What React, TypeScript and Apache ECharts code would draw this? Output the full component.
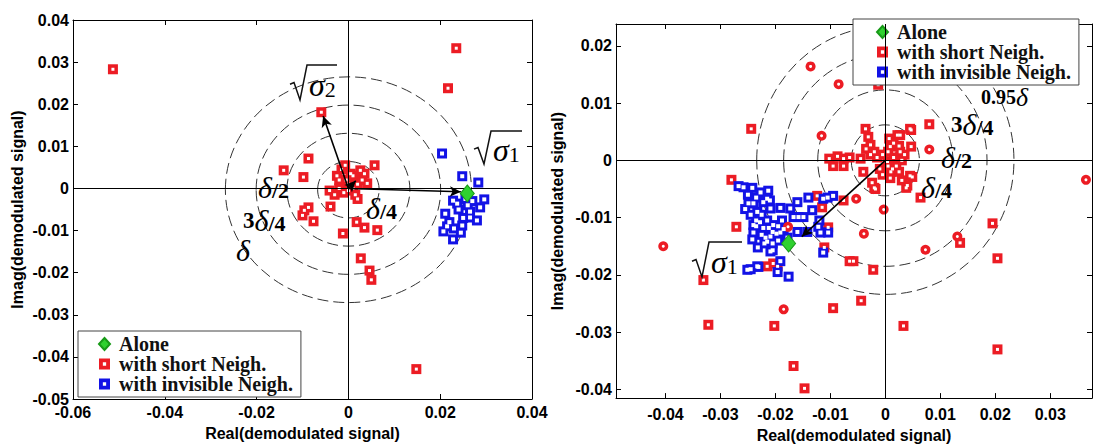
import React, { useEffect, useRef } from 'react';
import * as echarts from 'echarts';

// ---------- data ----------
const legendNames = ['Alone', 'with short Neigh.', 'with invisible Neigh.'];
const axisNameX = 'Real(demodulated signal)';
const axisNameY = 'Imag(demodulated signal)';

const leftAlone = [[0.0259, -0.0012]];
const leftShort = [
  [-0.0513, 0.0283], [0.0235, 0.0333], [0.0217, 0.0238], [-0.0059, 0.0181],
  [-0.0087, 0.0071], [-0.0141, 0.0043], [-0.0098, 0.0027], [-0.0007, 0.0055],
  [0.0026, 0.0043], [0.0057, 0.0055], [0.0041, 0.0012], [-0.0041, -0.0005],
  [-0.002, 0.002], [0.0, 0.001], [0.001, 0.0], [-0.001, -0.001], [0.002, 0.001],
  [0.001, 0.003], [-0.002, 0.0], [0.0015, -0.0015], [0.003, 0.002], [0.0, -0.0005],
  [-0.0025, 0.003], [0.0005, 0.0035], [-0.0015, 0.0045], [0.0035, 0.0035],
  [-0.003, -0.0015], [0.002, -0.0025], [-0.0005, 0.002],
  [-0.0039, -0.0043], [-0.0096, -0.0052], [-0.0087, -0.0045], [-0.01, -0.0064],
  [-0.0076, -0.0078], [0.0018, -0.008], [0.0035, -0.0093], [0.0063, -0.0099],
  [-0.0012, -0.0107], [0.0027, -0.0166], [0.0046, -0.0195], [0.005, -0.0217],
  [0.0148, -0.0429],
];
const leftInvisible = [
  [0.0204, 0.0083], [0.0248, 0.0029], [0.0283, 0.0014], [0.0228, -0.0029],
  [0.0296, -0.0026], [0.0287, -0.0045], [0.0211, -0.006], [0.028, -0.0076],
  [0.0248, -0.0088], [0.0207, -0.0102], [0.0228, -0.0121], [0.0265, -0.0069],
  [0.0237, -0.0036], [0.024, -0.005], [0.026, -0.004], [0.022, -0.008],
  [0.025, -0.007], [0.027, -0.003], [0.023, -0.0095], [0.0245, -0.0105],
  [0.0215, -0.009], [0.0265, -0.0055], [0.0255, -0.0025],
];
// [centre x, centre y, radius]  (delta/4, delta/2, 3delta/4, delta)
const leftRings = [[0, -0.0003, 0.0067], [0, -0.0003, 0.0134], [0, -0.0003, 0.0201], [0, -0.0003, 0.0268]];
const leftArrows = [[-0.0055, 0.0172], [0.0245, -0.0008], [0.0016, 0.0018]];

const rightAlone = [[-0.0176, -0.0145]];
const rightShortSquares = [
  [-0.0244, 0.0055], [-0.028, -0.0034], [-0.0124, -0.0062], [-0.0013, 0.0132],
  [0.008, 0.0063], [0.0047, 0.0053], [0.0064, -0.0065], [0.0049, -0.0029],
  [0.0038, -0.0048], [-0.002, -0.0048], [-0.0076, -0.007], [-0.0036, 0.0055],
  [-0.0031, 0.0041], [0.0007, 0.0038], [0.0027, 0.0044], [0.0045, 0.0055],
  [0.0022, 0.0044], [0.0047, 0.0024], [0.0027, 0.0015], [0.0009, 0.0024],
  [-0.0027, 0.0027], [-0.0027, 0.001], [-0.0045, 0.0003], [-0.0087, 0.0007],
  [-0.0076, 0.0003], [-0.0095, -0.001], [-0.0076, -0.001], [-0.0102, 0.0003],
  [-0.0065, 0.0005], [0.0004, -0.0002], [0.0013, -0.0015], [0.0009, -0.0031],
  [0.0045, -0.0027], [0.004, -0.0044], [-0.0024, -0.0039], [-0.0018, -0.005],
  [0.0015, 0.0005], [-0.0005, 0.001], [0.002, -0.001], [0.0005, 0.0015],
  [0.003, 0.0], [-0.001, -0.0015], [0.0025, 0.0025], [-0.0015, 0.0005],
  [0.001, -0.002], [0.0035, 0.001], [0.0005, -0.001], [-0.0005, -0.0025],
  [0.0025, -0.002], [0.0015, 0.003], [-0.002, 0.0015], [0.003, -0.0035],
  [-0.004, -0.002], [-0.0035, 0.002],
  [0.0136, -0.0144], [0.0195, -0.011],
  [0.0204, -0.0171], [-0.0104, -0.0117], [-0.0111, -0.0152], [-0.0065, -0.0176],
  [-0.0058, -0.0176], [-0.0022, -0.0191], [-0.0044, -0.0245], [-0.0095, -0.0258],
  [0.0033, -0.0289], [0.0204, -0.033], [-0.0271, -0.0116], [-0.0331, -0.0209],
  [-0.0322, -0.0287], [-0.0202, -0.0289], [-0.0167, -0.0359], [-0.0147, -0.0398],
  [-0.0215, -0.0185], [-0.0204, -0.018], [-0.0196, -0.0185], [-0.0115, -0.0082],
];
const rightShortCircles = [
  [-0.0136, 0.0164], [-0.0116, 0.0043], [-0.0085, 0.0133], [0.008, 0.0019],
  [0.0365, -0.0034], [-0.0053, -0.0067], [-0.0003, -0.0086], [-0.0039, -0.0128],
  [0.0131, -0.0133], [0.0073, -0.0156], [-0.0404, -0.015], [-0.0185, -0.026],
  [-0.0177, -0.0116],
];
const rightInvisible = [
  [-0.0267, -0.0045], [-0.0258, -0.0047], [-0.0242, -0.0048], [-0.0227, -0.0056],
  [-0.0213, -0.0053], [-0.0249, -0.0075], [-0.0222, -0.0073], [-0.0215, -0.0067],
  [-0.0209, -0.0084], [-0.0233, -0.009], [-0.0191, -0.0083], [-0.0173, -0.0084],
  [-0.016, -0.0073], [-0.014, -0.0065], [-0.0113, -0.0067], [-0.0105, -0.0065],
  [-0.0095, -0.0062], [-0.0133, -0.0087], [-0.0167, -0.0099], [-0.0149, -0.0099],
  [-0.0158, -0.0099], [-0.024, -0.0113], [-0.0222, -0.0118], [-0.0204, -0.0113],
  [-0.024, -0.0126], [-0.0209, -0.0133], [-0.0191, -0.0126], [-0.0215, -0.0142],
  [-0.0209, -0.0159], [-0.016, -0.0125], [-0.0142, -0.0125], [-0.0122, -0.0116],
  [-0.0118, -0.0126], [-0.0104, -0.0126], [-0.0113, -0.0161], [-0.012, -0.0105],
  [-0.0251, -0.0191], [-0.0233, -0.0185], [-0.0245, -0.019], [-0.0231, -0.0186],
  [-0.0196, -0.0195], [-0.0176, -0.0203], [-0.0191, -0.0176], [-0.0205, -0.0157],
  [-0.0235, -0.0105], [-0.0225, -0.0095], [-0.0215, -0.0105], [-0.0225, -0.013],
  [-0.022, -0.0145], [-0.0235, -0.0115], [-0.0245, -0.0095], [-0.0205, -0.0125],
  [-0.0195, -0.0115], [-0.0185, -0.012], [-0.0195, -0.014], [-0.021, -0.007],
  [-0.0235, -0.0065], [-0.025, -0.006], [-0.0255, -0.0085], [-0.024, -0.0075],
  [-0.0228, -0.0108], [-0.0212, -0.0118], [-0.0218, -0.0135], [-0.0205, -0.0145],
  [-0.0198, -0.0128], [-0.0242, -0.0138], [-0.0232, -0.0152], [-0.0188, -0.0105],
  [-0.0178, -0.0135],
];
// (delta/4, delta/2, 3delta/4, 0.95delta)
const rightRings = [[0, 0, 0.0062], [0, 0, 0.0123], [0, 0, 0.0185], [0, 0, 0.0234]];
const rightArrows = [[-0.0152, -0.0133]];

// ---------- styles ----------
const SANS = "'Liberation Sans', Arial, sans-serif";
const SERIF = "'Liberation Serif', 'Times New Roman', serif";
const RED = '#ec1c24';
const BLUE = '#1212e6';
const GREEN = '#2fd12f';

const tickLabel = { fontFamily: SANS, fontWeight: 'bold' as const, fontSize: 16, color: '#000' };
const axisLine = { show: true, onZero: false, lineStyle: { color: '#000', width: 1 } };
const axisTick = { show: true, inside: true, length: 5, lineStyle: { color: '#000', width: 1 } };

function xAxes(grid: number, min: number, max: number, step: number, fixedInterval: boolean, gap: number, edgeLabels: boolean) {
  const scale: any = fixedInterval ? { interval: step } : { minInterval: step, maxInterval: step };
  const base = { gridIndex: grid, type: 'value', min, max, ...scale, splitLine: { show: false }, axisLine, axisTick };
  return [
    {
      ...base, position: 'bottom',
      axisLabel: { ...tickLabel, margin: gap, showMinLabel: edgeLabels, showMaxLabel: edgeLabels },
      name: axisNameX, nameLocation: 'middle', nameGap: grid === 0 ? 26 : 24,
      nameTextStyle: { fontFamily: SANS, fontWeight: 'bold', fontSize: 16, color: '#000' },
    },
    { ...base, position: 'top', axisLabel: { show: false } },
  ];
}
function yAxes(grid: number, min: number, max: number, step: number, fixedInterval: boolean, nameGap: number, edgeLabels: boolean) {
  const scale: any = fixedInterval ? { interval: step } : { minInterval: step, maxInterval: step };
  const base = { gridIndex: grid, type: 'value', min, max, ...scale, splitLine: { show: false }, axisLine, axisTick };
  return [
    {
      ...base, position: 'left',
      axisLabel: { ...tickLabel, margin: 4, showMinLabel: edgeLabels, showMaxLabel: edgeLabels },
      name: axisNameY, nameLocation: 'middle', nameGap,
      nameTextStyle: { fontFamily: SANS, fontWeight: 'bold', fontSize: 16, color: '#000' },
    },
    { ...base, position: 'right', axisLabel: { show: false } },
  ];
}

// marker = filled coloured symbol + small white centre drawn on top
function markerSeries(name: string | undefined, axis: number, data: number[][], symbol: string, color: string, size: number, hole: number, z: number) {
  const base = { type: 'scatter', xAxisIndex: axis, yAxisIndex: axis, data, symbol };
  return [
    { ...base, name, z, symbolSize: size, itemStyle: { color, opacity: 1 } },
    { ...base, z: z + 0.5, silent: true, symbolSize: hole, itemStyle: { color: '#fff', opacity: 1 } },
  ];
}
const greenDiamond = { symbol: 'diamond', symbolSize: [14, 17], itemStyle: { color: GREEN, borderColor: '#189a18', borderWidth: 1, opacity: 1 } };

function ringSeries(axis: number, data: number[][]) {
  return {
    type: 'custom', xAxisIndex: axis, yAxisIndex: axis, silent: true, z: 1,
    data,
    renderItem: (_p: any, api: any) => {
      const c = api.coord([api.value(0), api.value(1)]);
      const s = api.size([api.value(2), api.value(2)]);
      return {
        type: 'ellipse',
        shape: { cx: c[0], cy: c[1], rx: s[0], ry: s[1] },
        style: { fill: 'none', stroke: '#333', lineWidth: 1, lineDash: [11, 5] },
      };
    },
    markLine: {
      silent: true, symbol: ['none', 'none'], label: { show: false },
      lineStyle: { color: '#000', width: 1, type: 'solid' },
      data: [{ xAxis: 0 }, { yAxis: 0 }],
    },
  };
}

function arrowMarks(arrows: number[][]) {
  return {
    silent: true, symbol: ['none', 'arrow'], symbolSize: [8, 11], label: { show: false },
    lineStyle: { color: '#000', width: 1.6, type: 'solid' },
    data: arrows.map((a) => [{ coord: [0, 0] }, { coord: a }]),
  };
}

// ---------- annotation helpers ----------
const deltaRich = {
  n: { fontFamily: SERIF, fontWeight: 'bold', fontSize: 23, lineHeight: 22, color: '#111' },
  d: { fontFamily: SERIF, fontStyle: 'italic', fontSize: 30, lineHeight: 22, color: '#111' },
  s: { fontFamily: SERIF, fontWeight: 'bold', fontSize: 22, lineHeight: 15, color: '#111', padding: [7, 0, 0, 0] },
};
function deltaText(x: number, y: number, pre: string, den: string) {
  return {
    type: 'text', x, y, z: 100,
    style: {
      text: (pre ? `{n|${pre}}` : '') + '{d|δ}' + (den ? `{s|/${den}}` : ''),
      rich: deltaRich, verticalAlign: 'middle', align: 'left',
    },
  };
}
function sqrtSigma(x0: number, yTop: number, h: number, barEnd: number, sub: string) {
  return [
    {
      type: 'polyline', z: 100,
      shape: { points: [[x0, yTop + h * 0.55], [x0 + 4, yTop + h * 0.5], [x0 + 10, yTop + h], [x0 + 17, yTop], [barEnd, yTop]] },
      style: { stroke: '#111', lineWidth: 1.5, fill: 'none' },
    },
    {
      type: 'text', x: x0 + 19, y: yTop + h * 0.58, z: 100,
      style: {
        text: `{s|σ}{n|${sub}}`,
        rich: {
          s: { fontFamily: SERIF, fontStyle: 'italic', fontSize: 32, lineHeight: 26, color: '#111' },
          n: { fontFamily: SERIF, fontSize: 22, lineHeight: 18, color: '#111', padding: [8, 0, 0, 0] },
        },
        verticalAlign: 'middle', align: 'left',
      },
    },
  ];
}

const holedSquare = 'path://M0,0L10,0L10,10L0,10Z M3.5,3.5L3.5,6.5L6.5,6.5L6.5,3.5Z';
const legendBase = {
  orient: 'vertical', itemWidth: 11, itemHeight: 12, itemGap: 0,
  backgroundColor: '#fff', borderColor: '#444', borderWidth: 1,
  textStyle: { fontFamily: SERIF, fontWeight: 'bold', fontSize: 20, color: '#111', lineHeight: 19, padding: [0, 0, 0, 4] },
  data: [
    { name: legendNames[0] },
    { name: legendNames[1], icon: holedSquare, itemStyle: { color: RED } },
    { name: legendNames[2], icon: holedSquare, itemStyle: { color: BLUE } },
  ],
  selectedMode: false,
};

export default function App() {
  const ref = useRef<HTMLDivElement>(null);
  useEffect(() => {
    const chart = echarts.init(ref.current!, null, { renderer: 'svg' });
    const option: any = {
      animation: false,
      backgroundColor: '#fff',
      grid: [
        { left: 73, top: 20, width: 459, height: 379 },
        { left: 616, top: 24, width: 476, height: 383 },
      ],
      xAxis: [
        ...xAxes(0, -0.06, 0.04, 0.02, true, 5, true),
        ...xAxes(1, -0.049, 0.0376, 0.01, false, 8, false),
      ],
      yAxis: [
        ...yAxes(0, -0.05, 0.04, 0.01, true, 48, true),
        ...yAxes(1, -0.0415, 0.0238, 0.01, false, 51, false),
      ],
      legend: [
        { ...legendBase, left: 78, top: 331, padding: [3, 8, 3, 20] },
        { ...legendBase, left: 853, top: 19, padding: [3, 8, 3, 23] },
      ],
      series: [
        ringSeries(0, leftRings),
        ...markerSeries(legendNames[1], 0, leftShort, 'rect', RED, 10, 3, 3),
        ...markerSeries(legendNames[2], 0, leftInvisible, 'rect', BLUE, 10, 4, 3),
        { type: 'scatter', name: legendNames[0], xAxisIndex: 0, yAxisIndex: 0, data: leftAlone, z: 5, ...greenDiamond, markLine: arrowMarks(leftArrows) },
        ringSeries(2, rightRings),
        ...markerSeries(legendNames[1], 2, rightShortSquares, 'rect', RED, 10, 3, 3),
        ...markerSeries(legendNames[2], 2, rightInvisible, 'rect', BLUE, 10, 4, 3),
        ...markerSeries(legendNames[1], 2, rightShortCircles, 'circle', RED, 10, 3, 3),
        { type: 'scatter', name: legendNames[0], xAxisIndex: 2, yAxisIndex: 2, data: rightAlone, z: 5, ...greenDiamond, markLine: arrowMarks(rightArrows) },
      ],
      graphic: [
        deltaText(258, 187, '', '2'),
        deltaText(243, 220, '3', '4'),
        deltaText(236, 250, '', ''),
        deltaText(366, 208, '', '4'),
        ...sqrtSigma(290, 65, 35, 337, '2'),
        ...sqrtSigma(474, 131, 33, 522, '1'),
        {
          type: 'text', x: 981, y: 97, z: 100,
          style: {
            text: '{n|0.95}{d|δ}',
            rich: {
              n: { fontFamily: SERIF, fontWeight: 'bold', fontSize: 20, lineHeight: 20, color: '#111' },
              d: { fontFamily: SERIF, fontStyle: 'italic', fontSize: 26, lineHeight: 20, color: '#111' },
            },
            verticalAlign: 'middle', align: 'left',
          },
        },
        deltaText(951, 124, '3', '4'),
        deltaText(941, 157, '', '2'),
        deltaText(921, 187, '', '4'),
        ...sqrtSigma(692, 242, 35, 742, '1'),
      ],
    };
    chart.setOption(option);
    return () => chart.dispose();
  }, []);
  return <div ref={ref} style={{ position: 'fixed', left: 0, top: 0, width: 1094, height: 448, background: '#fff' }} />;
}
